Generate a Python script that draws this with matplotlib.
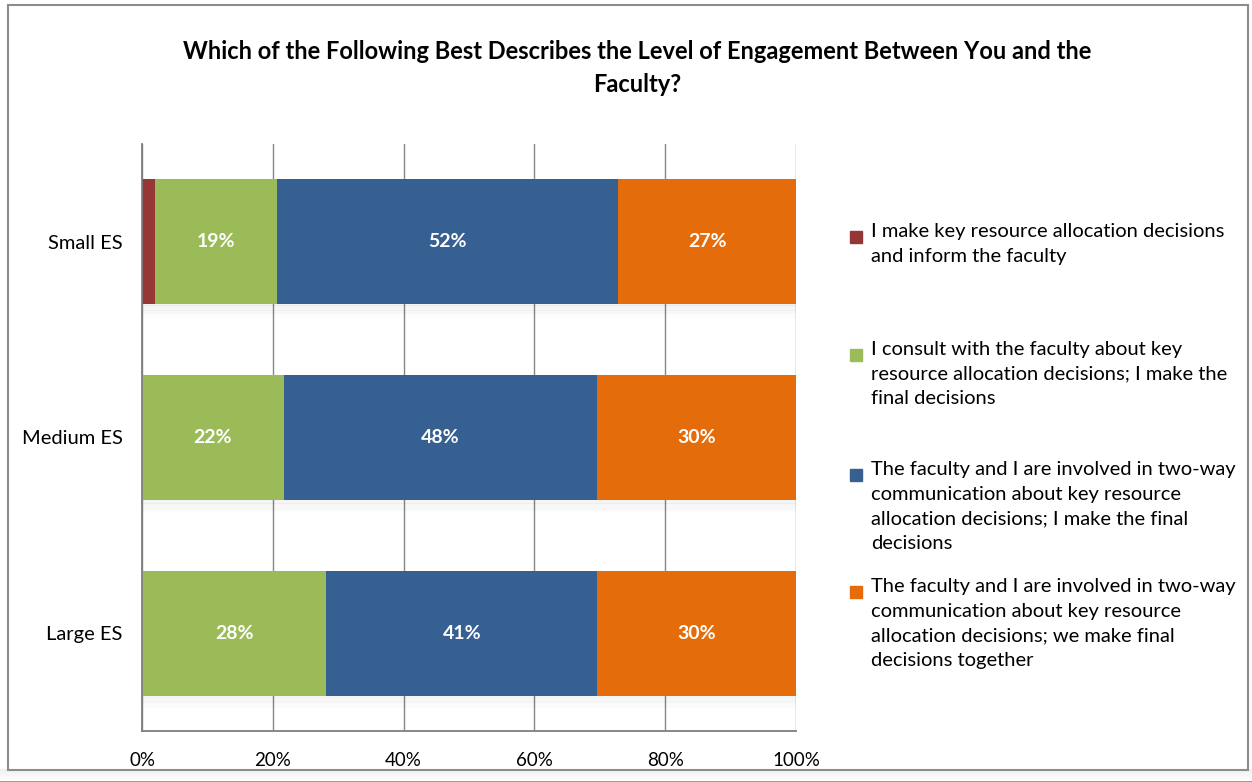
import numpy as np
import matplotlib.pyplot as plt
from matplotlib.patches import Rectangle

plt.rcParams['font.family'] = ['Lato', 'DejaVu Sans']

groups = ['Small ES', 'Medium ES', 'Large ES']
make_inform = [2.0, 0.0, 0.0]
consult = [18.6, 21.7, 28.2]
two_way_i_decide = [52.2, 47.9, 41.4]
two_way_together = [27.2, 30.4, 30.4]

series = [make_inform, consult, two_way_i_decide, two_way_together]
colors = ['#953735', '#9bbb59', '#376092', '#e46c0a']
legend_labels = [
    'I make key resource allocation decisions\nand inform the faculty',
    'I consult with the faculty about key\nresource allocation decisions; I make the\nfinal decisions',
    'The faculty and I are involved in two-way\ncommunication about key resource\nallocation decisions; I make the final\ndecisions',
    'The faculty and I are involved in two-way\ncommunication about key resource\nallocation decisions; we make final\ndecisions together',
]
xticks = [0, 20, 40, 60, 80, 100]

W, H = 1252, 782
fig = plt.figure(figsize=(W / 100, H / 100), dpi=100)
ax = fig.add_axes([142 / W, 1 - 731 / H, 654 / W, 587 / H])

y = np.arange(len(groups))
bar_h = 0.64
left = np.zeros(len(groups))
for vals, col in zip(series, colors):
    vals = np.array(vals)
    # soft shadow under each segment
    for k in range(6):
        ax.barh(y + bar_h / 2 + 0.012 * k, vals, height=0.014, left=left,
                color='#000000', alpha=0.045 * (6 - k) / 6, zorder=1, linewidth=0)
    ax.barh(y, vals, height=bar_h, left=left, color=col, zorder=2, linewidth=0)
    for yi, v, l in zip(y, vals, left):
        if v >= 5:
            ax.text(l + v / 2, yi, '%d%%' % round(v), ha='center', va='center',
                    color='white', fontsize=14, fontweight='bold', zorder=3)
    left = left + vals

ax.set_xlim(0, 100)
ax.set_ylim(2.5, -0.5)
ax.set_yticks(y)
ax.set_yticklabels(groups, fontsize=14.5)
ax.set_xticks(xticks)
ax.set_xticklabels(['%d%%' % t for t in xticks], fontsize=13.5)
ax.tick_params(axis='both', length=0)
ax.tick_params(axis='y', pad=14)
ax.tick_params(axis='x', pad=15)
ax.xaxis.grid(True, color='#868686', linewidth=1.0, zorder=0)
ax.set_axisbelow(True)
for s in ['top', 'right']:
    ax.spines[s].set_visible(False)
for s in ['left', 'bottom']:
    ax.spines[s].set_color('#7f7f7f')
    ax.spines[s].set_linewidth(1.3)
    ax.spines[s].set_zorder(4)

fig.text(637 / W, 1 - 68 / H,
         'Which of the Following Best Describes the Level of Engagement Between You and the\nFaculty?',
         ha='center', va='center', fontsize=17, fontweight='bold', linespacing=1.5)

# legend drawn as squares with wrapped text
entry_tops = [237, 355, 475, 592]
for top, col, lab in zip(entry_tops, colors, legend_labels):
    fig.patches.append(Rectangle((850 / W, 1 - (top + 6) / H), 12 / W, 12 / H,
                                 transform=fig.transFigure, color=col))
    fig.text(871 / W, 1 - (top - 14) / H, lab, ha='left', va='top',
             fontsize=14.5, linespacing=1.55)

# chart frame with a shadow along the bottom and right
for k in range(12):
    a = 0.06 * (12 - k) / 12
    fig.patches.append(Rectangle((0, (H - 770 - k) / H), 1, 1 / H,
                                 transform=fig.transFigure, color='black', alpha=a, lw=0))
fig.patches.append(Rectangle((0, 0), 1, (H - 770 - 11) / H,
                             transform=fig.transFigure, color='#9a9a9a', lw=0))
fig.patches.append(Rectangle((8 / W, (H - 770) / H), 1240 / W, 765 / H,
                             transform=fig.transFigure, fill=False,
                             edgecolor='#8c8c8c', lw=1.5))

fig.savefig('out.png', dpi=100)
